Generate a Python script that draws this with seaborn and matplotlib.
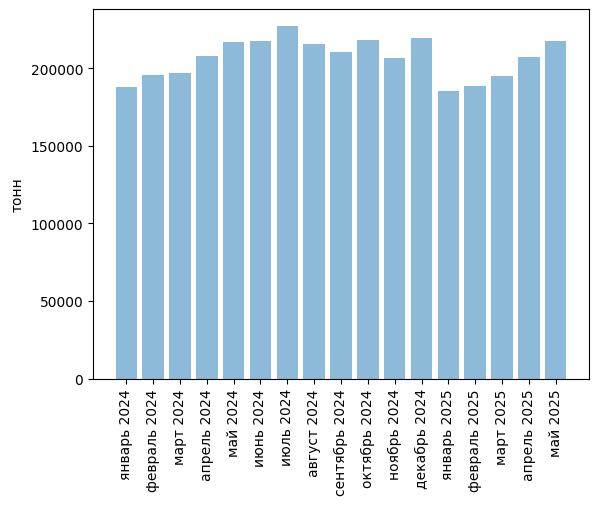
import pandas as pd
import matplotlib
matplotlib.use("Agg")
import matplotlib.pyplot as plt
import seaborn as sns

# monthly data
months = ["январь 2024", "февраль 2024", "март 2024", "апрель 2024", "май 2024",
          "июнь 2024", "июль 2024", "август 2024", "сентябрь 2024", "октябрь 2024",
          "ноябрь 2024", "декабрь 2024", "январь 2025", "февраль 2025", "март 2025",
          "апрель 2025", "май 2025"]
tonnes = [187700, 195500, 196800, 207700, 216800, 217400, 227100, 215500, 210300,
          218100, 206500, 219400, 185200, 188400, 194800, 207100, 217400]

df = pd.DataFrame({"month": months, "tonnes": tonnes})

fig, ax = plt.subplots(figsize=(5.98, 5.06), dpi=100)
sns.barplot(x="month", y="tonnes", data=df, color="#1f77b4", alpha=0.5,
            saturation=1, width=0.8, ax=ax)

n = len(months)
span = (n - 1) + 0.8
ax.set_xlim(-0.4 - 0.05 * span, n - 1 + 0.4 + 0.05 * span)
ax.set_ylim(0, max(tonnes) * 1.05)
ax.set_xlabel("")
ax.set_ylabel("тонн")
plt.xticks(rotation=90)
plt.subplots_adjust(left=0.1555, right=0.985, top=0.981, bottom=0.250)
plt.savefig("out.png")
